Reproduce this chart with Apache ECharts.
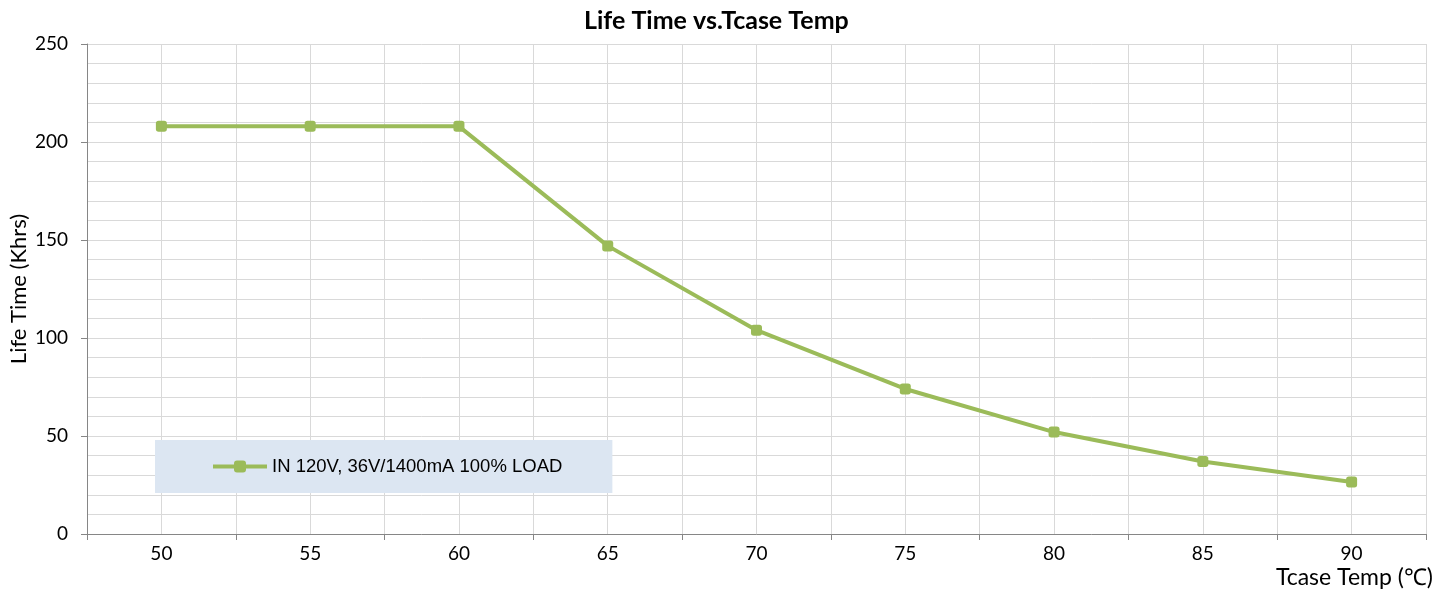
<!DOCTYPE html>
<html>
<head>
<meta charset="utf-8">
<script src="https://cdn.jsdelivr.net/npm/echarts@6/dist/echarts.min.js"></script>
<style>
html,body{margin:0;padding:0;background:#fff;}
#chart{width:1450px;height:594px;}
</style>
</head>
<body>
<div id="chart"></div>
<script>
const chartTitle = 'Life Time vs.Tcase Temp';
const xAxisName = 'Tcase Temp (\u2103)';
const yAxisName = 'Life Time (Khrs)';
const categories = ['50', '55', '60', '65', '70', '75', '80', '85', '90'];
const seriesName = 'IN 120V, 36V/1400mA 100% LOAD';
const lifeTimeKhrs = [208, 208, 208, 147, 104, 74, 52, 37, 26.5];
const yMin = 0, yMax = 250, yStep = 50;

const gridColor = '#d9d9d9';
const axisColor = '#868686';
const lineColor = '#9bbb59';
const labelFont = 'Lato';

const chart = echarts.init(document.getElementById('chart'), null, {renderer: 'canvas'});
chart.setOption({
  animation: false,
  backgroundColor: '#ffffff',
  title: {
    text: chartTitle,
    left: 579,
    top: 3,
    textStyle: {fontFamily: labelFont, fontWeight: 'bold', fontSize: 25, color: '#000'}
  },
  legend: {
    left: 155,
    top: 440,
    orient: 'horizontal',
    backgroundColor: '#dce6f2',
    padding: [17, 50, 17, 56],
    itemWidth: 54,
    itemHeight: 15,
    itemGap: 5,
    lineStyle: {width: 4},
    textStyle: {fontFamily: 'Liberation Sans', fontSize: 18.5, color: '#000', padding: [0, 0, 0, 0]},
    data: [seriesName]
  },
  grid: {left: 87, right: 24, top: 44, bottom: 60, containLabel: false, outerBoundsMode: 'none'},
  xAxis: [
    {
      type: 'category',
      data: categories,
      boundaryGap: true,
      position: 'bottom',
      name: xAxisName,
      nameLocation: 'end',
      nameGap: 7,
      nameTextStyle: {fontFamily: labelFont, fontSize: 23, color: '#000', align: 'right', verticalAlign: 'top', padding: [32, 0, 0, 0]},
      axisLine: {lineStyle: {color: axisColor, width: 1}},
      axisTick: {show: true, length: 6, alignWithLabel: false, lineStyle: {color: axisColor}},
      axisLabel: {fontFamily: labelFont, fontSize: 19, color: '#000', margin: 10},
      splitLine: {show: false}
    },
    {
      type: 'value',
      position: 'top',
      min: 47.5,
      max: 92.5,
      interval: 2.5,
      axisLine: {show: false},
      axisTick: {show: false},
      axisLabel: {show: false},
      splitLine: {show: true, lineStyle: {color: gridColor, width: 1}}
    }
  ],
  yAxis: {
    type: 'value',
    min: yMin,
    max: yMax,
    interval: yStep,
    name: yAxisName,
    nameLocation: 'middle',
    nameGap: 57,
    nameMoveOverlap: false,
    nameTextStyle: {fontFamily: labelFont, fontSize: 22, color: '#000'},
    axisLine: {show: true, lineStyle: {color: axisColor, width: 1}},
    axisTick: {show: true, length: 6, lineStyle: {color: axisColor}},
    axisLabel: {fontFamily: labelFont, fontSize: 19, color: '#000', margin: 19},
    splitLine: {show: true, lineStyle: {color: gridColor, width: 1}},
    minorTick: {show: false, splitNumber: 5},
    minorSplitLine: {show: true, lineStyle: {color: gridColor, width: 1}}
  },
  series: [{
    name: seriesName,
    type: 'line',
    xAxisIndex: 0,
    data: lifeTimeKhrs,
    symbol: 'roundRect',
    symbolSize: 11,
    itemStyle: {color: lineColor},
    lineStyle: {color: lineColor, width: 4},
    emphasis: {disabled: true}
  }]
});
</script>
</body>
</html>
